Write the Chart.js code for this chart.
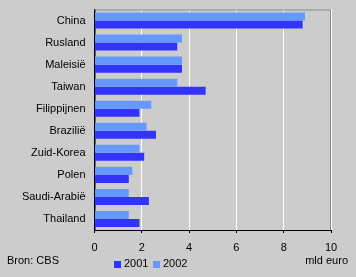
<!DOCTYPE html>
<html>
<head>
<meta charset="utf-8">
<script src="https://cdn.jsdelivr.net/npm/chart.js@4"></script>
<style>
  body { margin: 0; background: #cccccc; }
  #wrap { position: relative; width: 356px; height: 277px; background: #cccccc;
          font-family: "Liberation Sans", Arial, sans-serif; font-size: 11px; color: #000; }
  canvas { position: absolute; left: 0; top: 0; }
  .txt { position: absolute; line-height: 13px; white-space: nowrap; }
  .box { position: absolute; width: 7px; height: 7px; }
</style>
</head>
<body>
<div id="wrap">
  <canvas id="chart" width="356" height="277"></canvas>
  <div class="txt" style="left:7px; top:254px;">Bron: CBS</div>
  <div class="txt" style="right:8px; top:254px;">mld euro</div>
  <div id="legend"></div>
</div>
<script>
// data (mld euro)
const countries = ["China", "Rusland", "Maleisië", "Taiwan", "Filippijnen", "Brazilië",
                   "Zuid-Korea", "Polen", "Saudi-Arabië", "Thailand"];
const values2001 = [8.8, 3.5, 3.7, 4.7, 1.9, 2.6, 2.1, 1.45, 2.3, 1.9];
const values2002 = [8.9, 3.7, 3.7, 3.5, 2.4, 2.2, 1.9, 1.6, 1.45, 1.45];
const xTicks = [0, 2, 4, 6, 8, 10];

const color2001 = "#3333ff";
const color2002 = "#6699ff";

// grey frame on top and right of the plot
const frame = {
  id: "frame",
  afterDraw(chart) {
    const a = chart.chartArea, ctx = chart.ctx;
    ctx.save();
    ctx.strokeStyle = "#888888";
    ctx.lineWidth = 1;
    ctx.beginPath();
    ctx.moveTo(a.left, a.top + 0.5);
    ctx.lineTo(a.right - 0.5, a.top + 0.5);
    ctx.lineTo(a.right - 0.5, a.bottom);
    ctx.stroke();
    ctx.restore();
  }
};

Chart.defaults.font.family = '"Liberation Sans", Arial, sans-serif';
Chart.defaults.font.size = 11;
Chart.defaults.color = "#000";

new Chart(document.getElementById("chart"), {
  type: "bar",
  data: {
    labels: countries,
    datasets: [
      { label: "2002", data: values2002, backgroundColor: color2002 },
      { label: "2001", data: values2001, backgroundColor: color2001 }
    ]
  },
  options: {
    indexAxis: "y",
    responsive: false,
    animation: false,
    layout: { padding: { top: 9.5, right: 25, left: 0, bottom: 0 } },
    datasets: { bar: { categoryPercentage: 0.727, barPercentage: 1 } },
    plugins: { legend: { display: false }, tooltip: { enabled: false } },
    scales: {
      x: {
        min: 0, max: 10,
        afterBuildTicks(s) { s.ticks = xTicks.map(v => ({ value: v })); },
        afterFit(s) { s.height = 47; },
        grid: { color: "#ffffff", lineWidth: 1, tickColor: "#000", tickLength: 3, drawOnChartArea: true },
        border: { color: "#000", width: 1 },
        ticks: { padding: 8, maxRotation: 0 }
      },
      y: {
        // fixed width, and no extra room above the first label
        afterFit(s) { s.width = 94.5; s.paddingTop = 0; s.paddingBottom = 0; },
        grid: { display: false, drawTicks: false },
        border: { color: "#000", width: 1.5 },
        ticks: { padding: 9 }
      }
    }
  },
  plugins: [frame]
});

// legend in the order of the reference
const legendItems = [["2001", color2001, 114], ["2002", color2002, 153]];
const leg = document.getElementById("legend");
legendItems.forEach(([name, col, x]) => {
  const b = document.createElement("div");
  b.className = "box";
  b.style.left = x + "px"; b.style.top = "261px"; b.style.background = col;
  leg.appendChild(b);
  const t = document.createElement("div");
  t.className = "txt";
  t.style.left = (x + 10) + "px"; t.style.top = "257px";
  t.textContent = name;
  leg.appendChild(t);
});
</script>
</body>
</html>
